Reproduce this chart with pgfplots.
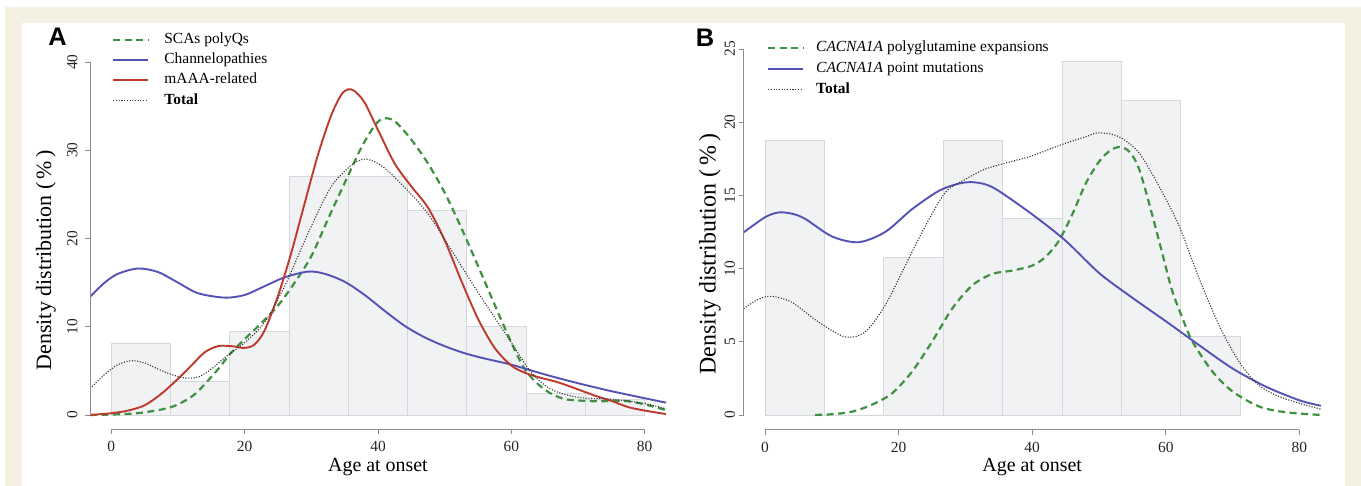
\documentclass[border=0pt]{standalone}
\usepackage{fontspec}
\setmainfont{Liberation Serif}
\newfontfamily\panelfont{Liberation Sans}
\usepackage{pgfplots}
\pgfplotsset{compat=1.18}
\definecolor{cream}{HTML}{F4F1E3}
\definecolor{gcol}{HTML}{3F9040}
\definecolor{bcol}{HTML}{5353B5}
\definecolor{rcol}{HTML}{BE3A2C}
\definecolor{barfill}{HTML}{F1F2F4}
\definecolor{baredge}{HTML}{D6D8DB}
\definecolor{axcol}{HTML}{8C8C8C}

\tikzset{
 gstyle/.style={draw=gcol, line width=2.2bp, dash pattern=on 7bp off 4.5bp},
 bstyle/.style={draw=bcol, line width=1.9bp},
 rstylec/.style={draw=rcol, line width=1.9bp},
 tstyle/.style={draw=black!80, line width=1.1bp, dash pattern=on 1.1bp off 1.6bp},
}

\pgfplotsset{
 rstyle/.style={
  scale only axis, xmin=-3.2, xmax=83.2,
  axis x line*=bottom, axis y line*=left,
  axis line style={draw=none},
  xtick={0,20,40,60,80},
  tick align=outside, major tick length=5bp,
  tick style={axcol, line width=0.8bp},
  /pgf/number format/assume math mode=true,
  ticklabel style={font=\fontsize{15.5}{15.5}\selectfont, text=black!85},
  yticklabel style={rotate=90, anchor=south},
  xticklabel shift=4bp,
  clip mode=individual,
  xlabel style={font=\fontsize{20}{20}\selectfont},
  legend style={draw=none, fill=none, anchor=north west,
    font=\fontsize{15.5}{15.5}\selectfont, column sep=0bp,
    nodes={inner sep=0pt, text height=11bp, text depth=4bp},
    legend cell align=left},
  legend image code/.code={\draw[##1] (0bp,0bp) -- (35bp,0bp);},
 },
}

\begin{document}
\begin{tikzpicture}
\fill[white] (0bp,0bp) rectangle (1361bp,486bp);
\fill[cream] (5bp,0bp) rectangle (1361bp,479bp);
\fill[white] (22bp,0bp) rectangle (1345bp,463bp);

\node[font=\panelfont\bfseries\fontsize{25.5}{25.5}\selectfont, anchor=center] at (57.5bp,449bp) {A};
\node[font=\panelfont\bfseries\fontsize{25.5}{25.5}\selectfont, anchor=center] at (705bp,448.5bp) {B};

% ---------------- Panel A ----------------
\begin{axis}[rstyle, at={(90bp,56.9bp)}, anchor=south west,
  width=576bp, height=381.2bp,
  ymin=-1.6, ymax=41.6, ytick={0,10,20,30,40},
  yticklabel shift=4bp,
  xlabel={Age at onset},
  xlabel style={at={(axis description cs:0.5,-0.0994)}, anchor=center},
  ylabel={Density distribution (\,\%\,)},
  ylabel style={at={(axis description cs:-0.0764,0.4436)}, anchor=center, font=\fontsize{22}{22}\selectfont},
  legend style={at={(axis description cs:0.033,1.047)}, row sep=5.3bp,
    /tikz/every odd column/.append style={column sep=15bp}},
]
\addplot[ybar interval, fill=barfill, draw=baredge, line width=0.8bp, forget plot] coordinates {
(0,8.15) (8.889,3.8) (17.778,9.47) (26.667,27.0) (35.556,27.0) (44.444,23.2) (53.333,10.0) (62.222,2.45) (71.111,1.8) (80,1.8)};

\addplot[gstyle, smooth] coordinates {
(-3.2,0) (0,0.05) (3,0.15) (5,0.3) (8,0.7) (10,1.2) (12.6,2.4) (15.8,5.0) (17.8,6.9) (20,8.6) (22.5,10.4) (25,12.4) (27.5,15) (30,18.0) (32.5,22.2) (35,26.3) (37.5,30.3) (39.5,32.8) (40.8,33.6) (42.5,33.3) (45,31.2) (47.5,28.5) (50,25.2) (52.5,21.2) (55,16.9) (57.5,12.5) (60,8.2) (62,5.2) (64,3.5) (66,2.4) (68,1.8) (70,1.65) (73,1.55) (77,1.6) (80,1.2) (83.2,0.55)};
\addlegendentry{SCAs polyQs}

\addplot[bstyle, smooth] coordinates {
(-3.2,13.4) (-1,15.0) (1,16.0) (4,16.6) (7,16.2) (10,15.0) (13,13.8) (17,13.3) (20,13.6) (23,14.6) (26,15.6) (29.5,16.25) (32,16.0) (35,15.1) (38,13.6) (41,11.8) (44,10.1) (47,8.8) (50,7.8) (53,7.0) (56,6.4) (60,5.7) (65,4.6) (70,3.6) (75,2.7) (80,1.9) (83.2,1.4)};
\addlegendentry{Channelopathies}

\addplot[rstylec, smooth] coordinates {
(-3.2,0) (0,0.2) (2.5,0.5) (5,1.1) (7.5,2.4) (10,4.1) (12,5.6) (14,7.1) (16,7.8) (18,7.8) (20,7.6) (21.5,8.0) (23,9.6) (25,13.5) (27,18.4) (29,24.0) (31,29.5) (33,34.0) (34.5,36.3) (35.5,36.9) (36.5,36.7) (38,35.4) (40,32.3) (42.5,28.5) (45,25.9) (47.5,23.5) (50,19.8) (52.5,15.2) (55,10.9) (57.5,7.6) (60,5.6) (62,4.8) (64,4.3) (67,3.7) (70,2.9) (72.5,2.2) (75,1.6) (77.5,0.9) (80,0.5) (83.2,0.1)};
\addlegendentry{mAAA-related}

\addplot[tstyle, smooth] coordinates {
(-3.2,3.0) (-1,4.6) (1,5.7) (3,6.15) (5,5.9) (7,5.2) (9,4.6) (11,4.2) (13,4.3) (15,5.2) (17,6.5) (20,8.2) (23,10.5) (26,14.6) (28,18.0) (30,21.4) (33,25.9) (36,28.3) (38,29.0) (40,28.5) (42,27.3) (45,25.0) (47.5,22.8) (50,19.9) (55,13.9) (60,8.2) (63,4.8) (66,2.9) (70,2.0) (75,1.8) (80,1.3) (83.2,0.7)};
\addlegendentry{\textbf{Total}}

\draw[axcol, line width=0.8bp] (axis cs:0,-1.6) -- (axis cs:80,-1.6);
\draw[axcol, line width=0.8bp] (axis cs:-3.2,0) -- (axis cs:-3.2,40);
\end{axis}

% ---------------- Panel B ----------------
\begin{axis}[rstyle, at={(743.6bp,56.4bp)}, anchor=south west,
  width=577.2bp, height=395.3bp,
  ymin=-1, ymax=26, ytick={0,5,10,15,20,25},
  xlabel={Age at onset},
  xlabel style={at={(axis description cs:0.5,-0.0946)}, anchor=center},
  ylabel={Density distribution (\,\%\,)},
  ylabel style={at={(axis description cs:-0.0582,0.444)}, anchor=center, font=\fontsize{24}{24}\selectfont},
  legend style={at={(axis description cs:0.035,0.99)}, row sep=6bp,
    /tikz/every odd column/.append style={column sep=12bp}},
]
\addplot[ybar interval, fill=barfill, draw=baredge, line width=0.8bp, forget plot] coordinates {
(0,18.75) (8.889,0) (17.778,10.77) (26.667,18.75) (35.556,13.45) (44.444,24.15) (53.333,21.47) (62.222,5.37) (71.111,5.37)};

\addplot[gstyle, smooth] coordinates {
(7.5,0) (10,0.05) (13,0.22) (16,0.7) (19,1.47) (22,2.95) (25,5.0) (28,7.25) (31,8.84) (34,9.63) (37,9.86) (40,10.2) (42,10.8) (44,11.9) (46,13.7) (48,15.8) (50,17.3) (51.5,18.0) (53,18.3) (54.5,18.0) (56,16.8) (58,13.6) (60,10.1) (61,8.4) (62.5,6.6) (64,5.0) (67,2.95) (70,1.6) (74,0.57) (78,0.18) (83.2,0)};
\addlegendentry{\textit{CACNA1A} polyglutamine expansions}

\addplot[bstyle, smooth] coordinates {
(-3.2,12.47) (0,13.5) (2,13.83) (4,13.75) (6,13.4) (10,12.2) (14,11.8) (18,12.5) (22,14.05) (26,15.3) (29,15.8) (31,15.9) (33,15.75) (35,15.3) (40,13.7) (45,11.9) (50,9.7) (55,8.0) (60,6.4) (65,4.76) (70,3.17) (75,1.93) (80,1.0) (83.2,0.63)};
\addlegendentry{\textit{CACNA1A} point mutations}

\addplot[tstyle, smooth] coordinates {
(-3.2,7.25) (-1,7.9) (1,8.1) (4,7.7) (8,6.35) (12,5.33) (15,5.67) (18,7.5) (21,10.2) (24,12.9) (27,15.2) (30,16.1) (33,16.8) (36,17.2) (40,17.7) (44,18.4) (48,19.0) (50,19.27) (53,19.0) (56,17.9) (59,15.6) (62,12.9) (65,9.3) (68,6.1) (71,3.6) (74,2.0) (77,1.25) (80,0.8) (83.2,0.4)};
\addlegendentry{\textbf{Total}}

\draw[axcol, line width=0.8bp] (axis cs:0,-1) -- (axis cs:80,-1);
\draw[axcol, line width=0.8bp] (axis cs:-3.2,0) -- (axis cs:-3.2,25);
\end{axis}
\useasboundingbox (0bp,0bp) rectangle (1361bp,486bp);
\end{tikzpicture}
\end{document}
